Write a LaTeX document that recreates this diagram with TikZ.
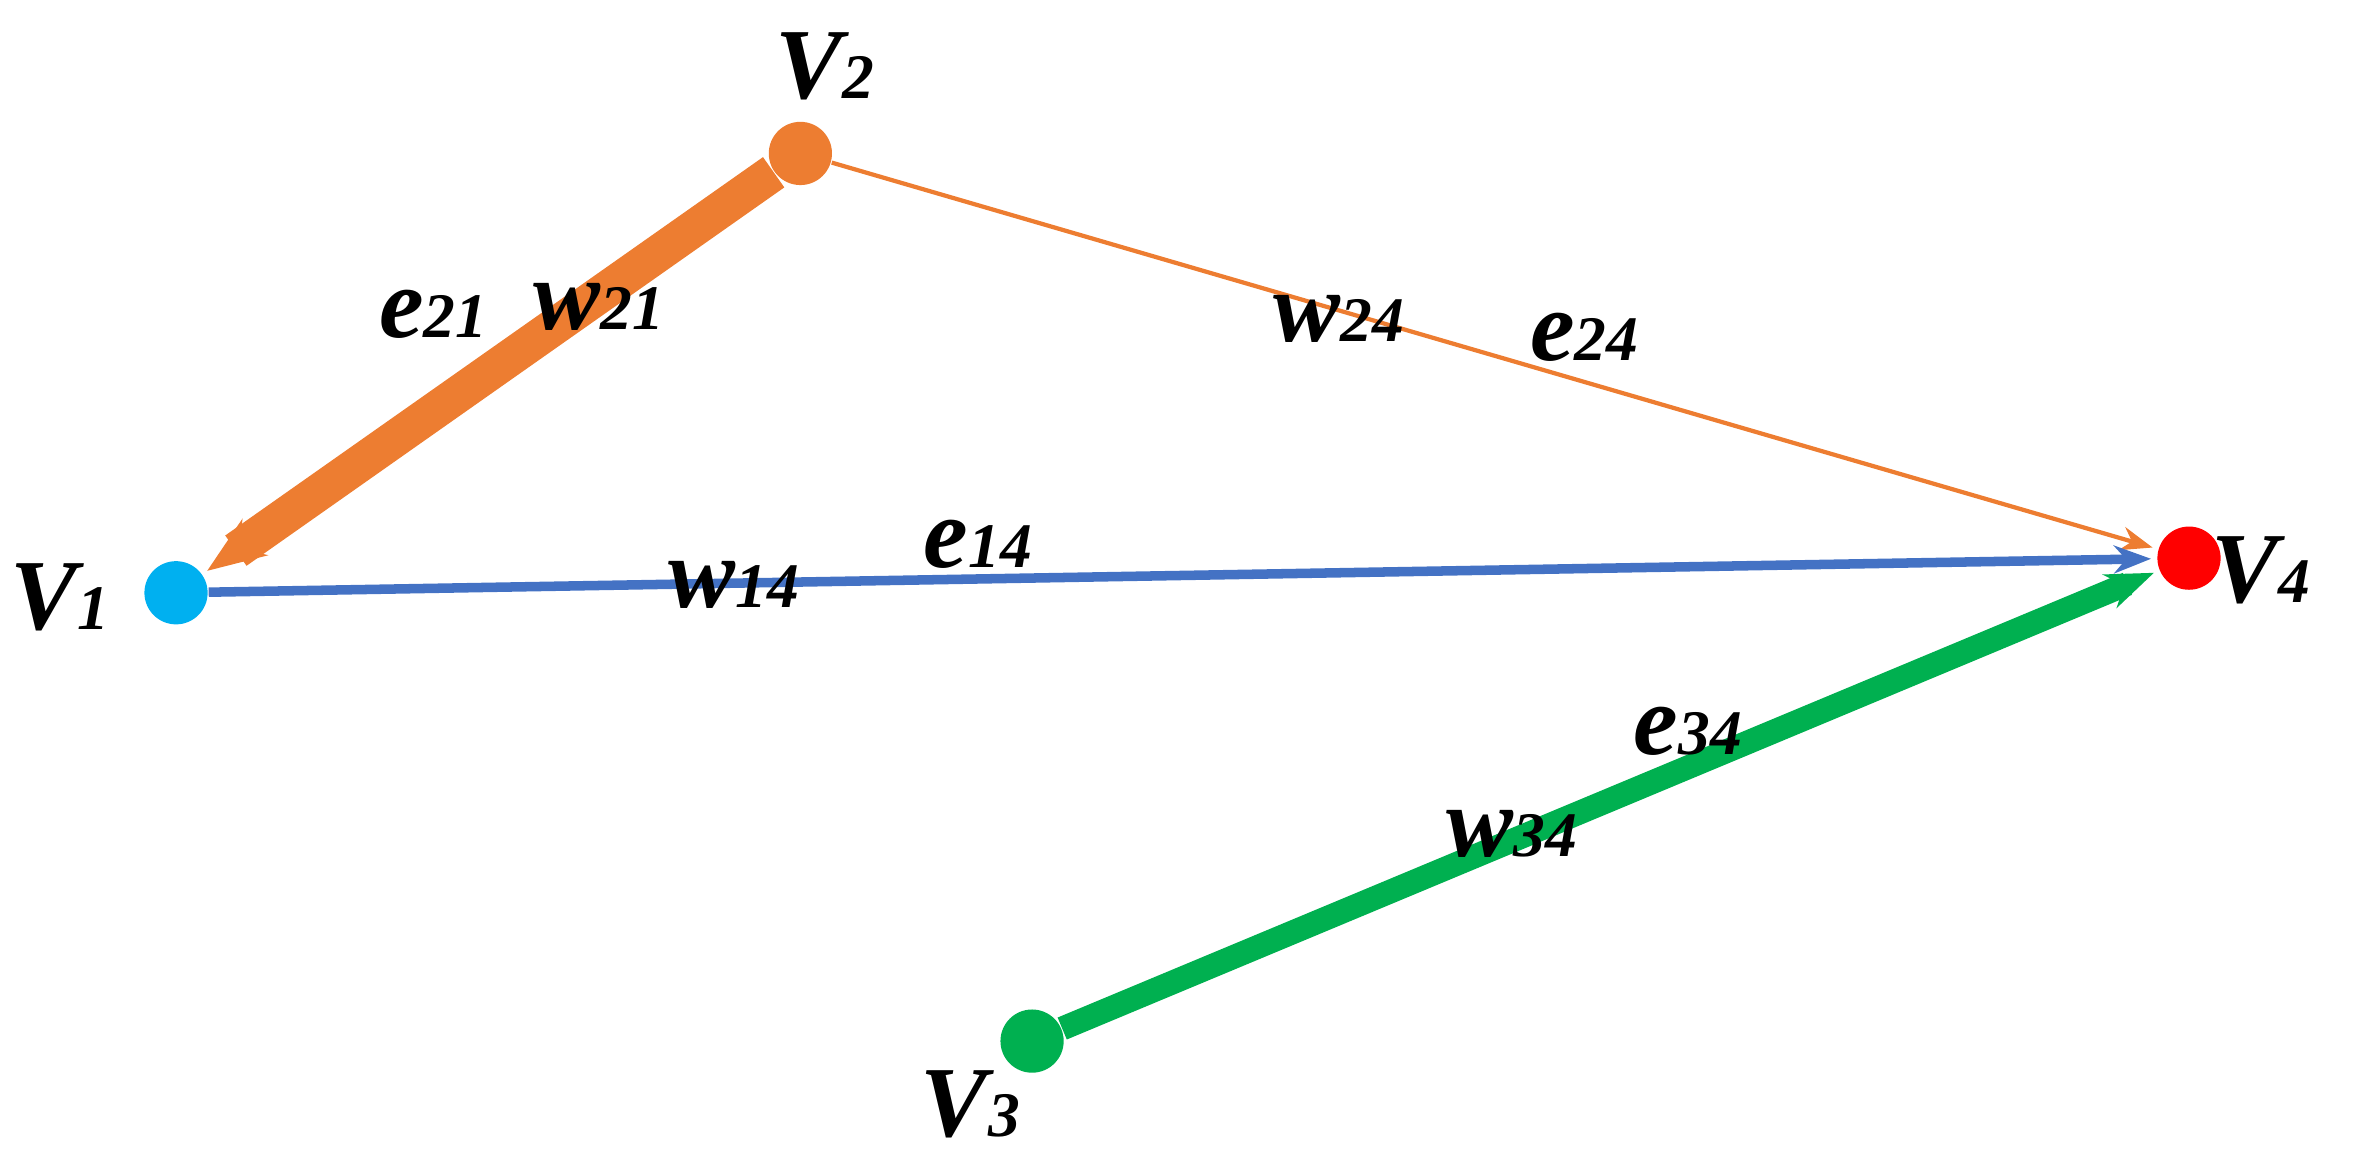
\documentclass[tikz,border=0pt]{standalone}
\usepackage{fontspec}
\setmainfont{Liberation Serif}
\usetikzlibrary{arrows.meta}
\definecolor{vblue}{RGB}{0,176,240}
\definecolor{vorange}{RGB}{237,125,49}
\definecolor{vgreen}{RGB}{0,176,80}
\definecolor{eblue}{RGB}{68,114,196}
\def\lab#1#2{{\fontsize{19}{19}\selectfont\bfseries\itshape #1}{\fontsize{12}{12}\selectfont\bfseries\itshape #2}}

\begin{document}
\begin{tikzpicture}[x=0.01cm,y=0.01cm,
    vertex/.style={circle, fill=#1, minimum size=0.42cm, inner sep=0pt},
    edge/.style 2 args={draw=#1, -{Stealth[length=#2]}, shorten >=1pt}]
      \useasboundingbox (0,0) rectangle (1570,769);

      % Vertices
      \node[vertex=vblue] (v1) at (117,375) {};
      \node[vertex=vorange] (v2) at (532,667) {};
      \node[vertex=red] (v4) at (1455,398) {};
      \node[vertex=vgreen] (v3) at (686,77) {};

      % Edges
      \draw[edge={vorange}{11pt}, line width=7pt] (v2) -- (v1);
      \draw[edge={vorange}{6pt}, line width=0.8pt] (v2) -- (v4);
      \draw[edge={eblue}{7pt}, line width=1.8pt] (v1) -- (v4);
      \draw[edge={vgreen}{9pt}, line width=4.5pt] (v3) -- (v4);

      % Vertex labels
      \node (l1) at (40,372) {\lab{V}{1}};
      \node (l2) at (548,725) {\lab{V}{2}};
      \node (l4) at (1503,390) {\lab{V}{4}};
      \node (l3) at (645,35) {\lab{V}{3}};

      % Edge labels
      \node (e21) at (288,560) {\lab{e}{21}};
      \node (w21) at (398,565) {\lab{w}{21}};
      \node (w24) at (890,557) {\lab{w}{24}};
      \node (e24) at (1053,545) {\lab{e}{24}};
      \node (e14) at (650,407) {\lab{e}{14}};
      \node (w14) at (488,380) {\lab{w}{14}};
      \node (e34) at (1122,283) {\lab{e}{34}};
      \node (w34) at (1005,215) {\lab{w}{34}};
\end{tikzpicture}
\end{document}
